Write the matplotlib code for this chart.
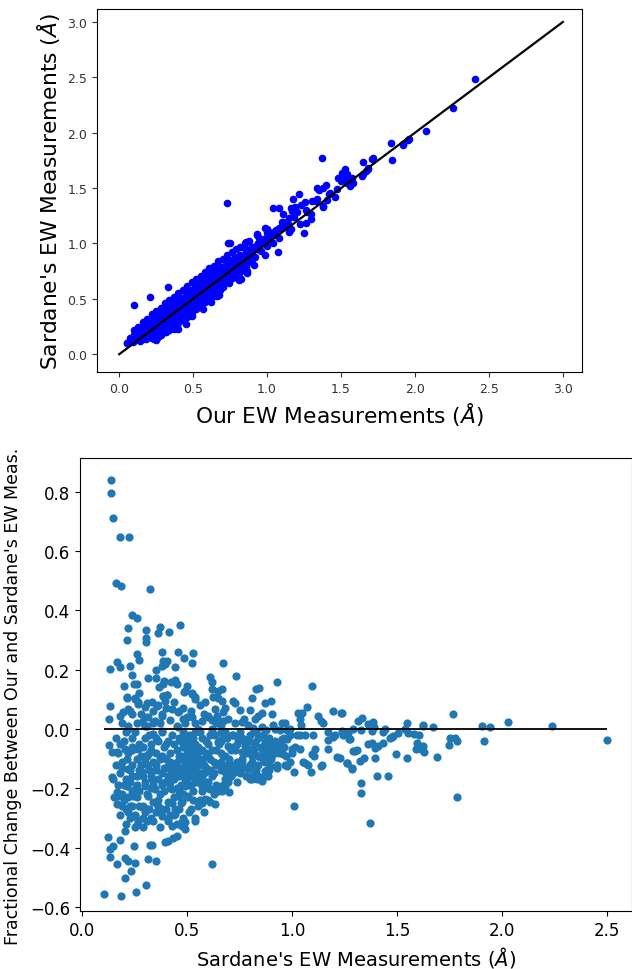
import numpy as np
import matplotlib
matplotlib.use('Agg')
import matplotlib.pyplot as plt

# --- painel de cima: nossas medidas x medidas do Sardane (estimadas da figura) ---
our_ew = [
    2.405, 2.259, 2.072, 1.955, 1.917, 1.838, 1.845, 1.372, 0.728, 1.651,
    1.707, 1.718, 1.685, 1.527, 1.505, 1.539, 1.482, 1.561, 1.583, 1.640,
    1.399, 1.354, 1.426, 1.471, 1.218, 1.178, 1.257, 1.302, 1.336, 1.038,
    1.083, 1.189, 1.200, 1.167, 1.264, 1.295, 1.250, 1.110, 1.099, 1.133,
    1.160, 0.998, 0.930, 1.020, 1.054, 0.739, 0.858, 0.930, 0.941, 0.908,
    0.863, 0.813, 0.914, 0.660, 0.615, 0.547, 0.493, 0.403, 0.302, 0.232,
    0.164, 0.052, 0.074, 0.329, 0.205, 0.101, 1.075, 0.749, 0.863, 0.822,
    1.960, 1.919, 1.666, 1.647, 1.680, 1.538, 1.516, 1.571, 1.340, 1.380,
    1.163, 1.190, 1.149, 1.230, 1.271, 1.380, 1.408, 0.986, 1.013, 1.081,
    1.108, 0.945, 0.999, 0.931, 0.890, 0.849, 0.986, 0.754, 0.809, 0.319,
    0.373, 0.250, 0.482, 0.564, 0.618, 0.672, 0.455, 0.400, 0.050, 0.070,
    0.080, 0.090, 0.100, 0.110, 0.120, 0.120, 0.130, 0.140, 0.140, 0.150,
    0.160, 0.160, 0.170, 0.180, 0.180, 0.190, 0.200, 0.200, 0.210, 0.220,
    0.220, 0.230, 0.240, 0.240, 0.250, 0.250, 0.260, 0.270, 0.270, 0.280,
    0.280, 0.290, 0.300, 0.300, 0.310, 0.310, 0.320, 0.330, 0.330, 0.340,
    0.340, 0.350, 0.360, 0.360, 0.370, 0.370, 0.380, 0.390, 0.390, 0.400,
    0.400, 0.410, 0.420, 0.420, 0.430, 0.430, 0.440, 0.450, 0.450, 0.460,
    0.460, 0.470, 0.480, 0.480, 0.490, 0.490, 0.500, 0.510, 0.510, 0.520,
    0.520, 0.530, 0.540, 0.540, 0.550, 0.550, 0.560, 0.570, 0.570, 0.580,
    0.580, 0.590, 0.600, 0.600, 0.610, 0.610, 0.620, 0.630, 0.630, 0.640,
    0.640, 0.650, 0.660, 0.660, 0.670, 0.680, 0.680, 0.690, 0.700, 0.700,
    0.710, 0.720, 0.720, 0.730, 0.740, 0.740, 0.750, 0.760, 0.760, 0.770,
    0.780, 0.780, 0.790, 0.800, 0.810, 0.820, 0.830, 0.840, 0.850, 0.860,
    0.870, 0.880, 0.890, 0.900, 0.920, 0.940, 0.960, 0.980, 1.000, 1.020,
    1.040, 1.060, 1.080, 1.120, 1.150, 1.180, 1.220, 1.260, 1.300, 1.330,
    1.380, 1.420, 1.460, 1.500, 1.560, 0.150, 0.190, 0.230, 0.260, 0.290,
    0.320, 0.350, 0.380, 0.410, 0.440, 0.470, 0.500, 0.530, 0.560, 0.590,
    0.620, 0.650, 0.680, 0.710, 0.740, 0.200, 0.250, 0.300, 0.350, 0.400,
    0.450, 0.500, 0.550, 0.600, 0.650, 0.700, 0.750, 0.800, 0.850, 0.900,
    0.100, 0.130, 0.160, 0.190, 0.220, 0.250, 0.280, 0.310, 0.340, 0.370,
    0.400, 0.430, 0.460, 0.490, 0.520, 0.550, 0.580, 0.610, 0.640, 0.670,
    0.700, 0.730, 0.760, 0.790, 0.820, 0.850, 0.880, 0.120, 0.150, 0.180,
    0.210, 0.240, 0.270, 0.300, 0.330, 0.360, 0.390, 0.420, 0.450, 0.480,
    0.510, 0.540, 0.570, 0.600, 0.630, 0.660, 0.690, 0.720, 0.750, 0.780,
    0.260, 0.300, 0.340, 0.380, 0.420, 0.460, 0.500, 0.540, 0.580, 0.620,
    0.660, 0.700, 0.740, 0.780, 0.820, 0.860, 0.900, 0.210, 0.290, 0.370,
    0.450, 0.530, 0.610, 0.690, 0.770, 0.850, 0.930, 0.970, 1.010, 1.050,
    1.100, 1.140, 0.090, 0.110, 0.140, 0.170, 0.200, 0.230, 0.260, 0.290,
    0.320, 0.350, 0.380, 0.410, 0.440, 0.470, 0.500, 0.530, 0.560, 0.590,
]
sardane_ew_top = [
    2.484, 2.222, 2.012, 1.936, 1.888, 1.906, 1.755, 1.771, 1.364, 1.737,
    1.762, 1.768, 1.671, 1.677, 1.641, 1.626, 1.590, 1.581, 1.545, 1.611,
    1.529, 1.481, 1.460, 1.490, 1.445, 1.400, 1.376, 1.385, 1.406, 1.319,
    1.319, 1.325, 1.286, 1.295, 1.183, 1.220, 1.093, 1.265, 1.190, 1.159,
    1.129, 1.129, 1.084, 1.099, 1.114, 1.003, 1.009, 1.075, 0.979, 0.888,
    0.753, 0.672, 0.804, 0.527, 0.497, 0.467, 0.346, 0.316, 0.241, 0.136,
    0.136, 0.106, 0.151, 0.611, 0.521, 0.443, 0.926, 1.001, 0.730, 0.675,
    1.941, 1.899, 1.658, 1.625, 1.679, 1.544, 1.589, 1.589, 1.498, 1.498,
    1.323, 1.287, 1.227, 1.348, 1.287, 1.333, 1.393, 1.137, 1.106, 1.137,
    1.197, 1.046, 1.091, 0.986, 0.926, 0.956, 0.895, 0.745, 0.805, 0.202,
    0.232, 0.142, 0.353, 0.413, 0.473, 0.534, 0.277, 0.232, 0.100, 0.120,
    0.150, 0.110, 0.170, 0.130, 0.200, 0.150, 0.220, 0.120, 0.180, 0.240,
    0.160, 0.210, 0.260, 0.140, 0.200, 0.280, 0.230, 0.170, 0.300, 0.250,
    0.150, 0.290, 0.200, 0.330, 0.270, 0.130, 0.310, 0.220, 0.360, 0.280,
    0.170, 0.330, 0.390, 0.250, 0.300, 0.200, 0.360, 0.420, 0.280, 0.330,
    0.220, 0.400, 0.450, 0.300, 0.360, 0.250, 0.420, 0.480, 0.330, 0.380,
    0.280, 0.450, 0.510, 0.360, 0.410, 0.310, 0.480, 0.550, 0.390, 0.440,
    0.340, 0.510, 0.580, 0.420, 0.470, 0.380, 0.540, 0.610, 0.450, 0.500,
    0.410, 0.570, 0.640, 0.480, 0.530, 0.440, 0.600, 0.670, 0.510, 0.560,
    0.470, 0.630, 0.700, 0.540, 0.590, 0.500, 0.660, 0.730, 0.570, 0.620,
    0.530, 0.690, 0.760, 0.600, 0.650, 0.720, 0.580, 0.790, 0.680, 0.630,
    0.750, 0.820, 0.660, 0.710, 0.780, 0.640, 0.850, 0.740, 0.690, 0.810,
    0.880, 0.720, 0.770, 0.840, 0.760, 0.900, 0.800, 0.870, 0.780, 0.930,
    0.840, 0.900, 0.830, 0.970, 0.880, 1.000, 0.930, 1.040, 0.980, 1.080,
    1.000, 1.120, 1.050, 1.150, 1.100, 1.240, 1.180, 1.300, 1.270, 1.380,
    1.340, 1.450, 1.420, 1.560, 1.520, 0.190, 0.220, 0.240, 0.260, 0.290,
    0.310, 0.350, 0.370, 0.400, 0.430, 0.460, 0.490, 0.520, 0.550, 0.580,
    0.610, 0.640, 0.670, 0.700, 0.730, 0.260, 0.300, 0.350, 0.380, 0.430,
    0.500, 0.580, 0.620, 0.660, 0.710, 0.770, 0.800, 0.860, 0.900, 0.920,
    0.220, 0.250, 0.290, 0.320, 0.360, 0.390, 0.420, 0.460, 0.490, 0.520,
    0.550, 0.580, 0.620, 0.650, 0.680, 0.710, 0.740, 0.780, 0.800, 0.840,
    0.860, 0.900, 0.920, 0.950, 0.970, 1.000, 1.020, 0.170, 0.210, 0.250,
    0.280, 0.310, 0.340, 0.380, 0.410, 0.430, 0.470, 0.500, 0.530, 0.560,
    0.590, 0.620, 0.650, 0.680, 0.710, 0.740, 0.770, 0.800, 0.830, 0.860,
    0.160, 0.210, 0.250, 0.290, 0.330, 0.370, 0.410, 0.450, 0.500, 0.540,
    0.570, 0.610, 0.660, 0.700, 0.740, 0.790, 0.860, 0.190, 0.270, 0.340,
    0.420, 0.490, 0.570, 0.650, 0.730, 0.820, 0.950, 1.010, 1.050, 1.080,
    1.160, 1.180, 0.140, 0.190, 0.150, 0.230, 0.200, 0.270, 0.240, 0.360,
    0.330, 0.440, 0.410, 0.480, 0.460, 0.550, 0.520, 0.600, 0.580, 0.660,
]
linha_ref = [0.0, 3.0]

# --- painel de baixo: medida do Sardane x variacao fracionaria ---
sardane_ew = [
    0.138, 0.138, 0.149, 0.181, 0.224, 0.160, 0.186, 0.324, 0.240, 0.260,
    0.221, 0.303, 0.371, 0.363, 0.414, 0.465, 0.213, 0.303, 0.303, 0.263,
    0.271, 0.382, 0.387, 0.395, 0.380, 0.403, 0.459, 0.487, 0.530, 0.522,
    0.443, 0.135, 0.167, 0.179, 0.229, 0.237, 0.316, 0.351, 0.351, 0.673,
    0.248, 0.262, 0.200, 0.367, 0.387, 0.390, 0.424, 0.443, 0.451, 0.498,
    0.487, 0.522, 0.538, 0.610, 0.617, 0.620, 0.646, 0.213, 0.252, 0.268,
    0.308, 0.387, 0.403, 0.395, 0.732, 0.927, 1.097, 0.827, 0.844, 0.665,
    0.721, 0.729, 0.811, 0.871, 0.898, 0.646, 0.752, 0.800, 0.681, 0.643,
    0.856, 0.840, 0.824, 0.903, 1.030, 1.049, 1.070, 1.197, 1.233, 1.125,
    1.138, 1.149, 1.038, 1.043, 0.951, 0.967, 0.911, 0.773, 0.760, 0.729,
    0.697, 0.673, 0.654, 0.660, 0.792, 0.816, 0.856, 0.878, 0.943, 0.975,
    0.990, 1.022, 1.062, 1.102, 1.173, 1.205, 1.244, 1.268, 1.292, 1.276,
    1.300, 1.213, 1.260, 1.284, 1.170, 1.173, 1.197, 1.110, 1.106, 1.141,
    1.138, 1.094, 1.062, 1.078, 1.089, 1.054, 1.038, 1.014, 1.038, 1.011,
    1.008, 0.967, 0.975, 0.998, 0.998, 0.959, 0.975, 0.951, 0.935, 0.919,
    0.911, 0.895, 0.887, 0.871, 0.856, 0.832, 0.808, 0.800, 0.697, 0.700,
    0.681, 0.665, 0.649, 1.237, 1.765, 2.029, 2.240, 2.500, 1.905, 1.944,
    1.914, 1.787, 1.327, 1.327, 1.406, 1.457, 1.260, 1.284, 1.689, 1.494,
    1.546, 1.394, 1.326, 1.342, 1.292, 1.308, 1.746, 1.778, 1.787, 1.752,
    1.673, 1.622, 1.625, 1.549, 1.540, 1.554, 1.581, 1.603, 1.594, 1.624,
    1.590, 1.617, 1.631, 1.443, 1.433, 1.379, 1.387, 1.363, 1.392, 1.316,
    1.332, 1.327, 1.237, 1.250, 1.273, 1.363, 1.379, 1.432, 1.411, 1.394,
    1.467, 1.483, 1.506, 1.475, 1.230, 1.370, 0.106, 0.186, 0.256, 0.303,
    0.202, 0.232, 0.165, 0.133, 0.133, 0.149, 0.125, 0.181, 0.205, 0.221,
    0.252, 0.313, 0.352, 0.249, 0.324, 0.335, 0.395, 0.411, 0.435, 0.451,
    0.205, 0.620, 0.260, 0.268, 0.252, 0.475, 0.490, 0.538, 0.133, 0.129,
    0.213, 0.252, 0.268, 0.300, 0.332, 0.356, 0.181, 0.197, 0.221, 0.237,
    0.387, 0.403, 0.490, 0.522, 0.538, 0.586, 0.625, 0.665, 0.633, 0.673,
    0.427, 0.459, 0.483, 0.522, 0.570, 0.602, 0.379, 0.348, 0.316, 0.284,
    0.221, 0.300, 0.379, 0.459, 0.538, 0.617, 0.252, 0.340, 0.129, 0.141,
    0.165, 0.205, 0.237, 0.213, 0.221, 0.237, 0.213, 0.252, 0.244, 0.141,
    0.149, 0.165, 0.173, 0.189, 0.165, 0.268, 0.300, 0.316, 0.284, 0.332,
    0.300, 0.348, 0.316, 0.340, 0.284, 0.300, 0.363, 0.379, 0.411, 0.443,
    0.395, 0.427, 0.459, 0.411, 0.443, 0.475, 0.506, 0.490, 0.475, 0.490,
    0.506, 0.522, 0.538, 0.554, 0.506, 0.475, 0.538, 0.570, 0.522, 0.490,
    0.554, 0.586, 0.538, 0.570, 0.602, 0.578, 0.610, 0.633, 0.657, 0.673,
    0.586, 0.610, 0.633, 0.379, 0.411, 0.443, 0.427, 0.475, 0.490, 0.633,
    0.649, 0.665, 0.697, 0.713, 0.729, 0.744, 0.760, 0.776, 0.792, 0.808,
    0.824, 0.840, 0.856, 0.871, 0.887, 0.729, 0.760, 0.792, 0.824, 0.665,
    0.681, 0.697, 0.808, 0.840, 0.871, 0.400, 0.420, 0.440, 0.460, 0.470,
    0.480, 0.490, 0.500, 0.500, 0.510, 0.520, 0.530, 0.540, 0.550, 0.560,
    0.570, 0.580, 0.590, 0.600, 0.610, 0.430, 0.450, 0.460, 0.480, 0.490,
    0.510, 0.520, 0.530, 0.550, 0.570, 0.360, 0.370, 0.380, 0.390, 0.410,
    0.420, 0.440, 0.450, 0.470, 0.500, 0.530, 0.560, 0.590, 0.620, 0.640,
    0.660, 0.680, 0.700, 0.720, 0.740, 0.760, 0.780, 0.800, 0.820, 0.840,
    0.860, 0.880, 0.900, 0.920, 0.940, 0.300, 0.310, 0.320, 0.330, 0.340,
    0.280, 0.270, 0.260, 0.240, 0.220, 0.300, 0.340, 0.380, 0.420, 0.460,
    0.500, 0.540, 0.580, 0.620, 0.660, 0.350, 0.370, 0.400, 0.410, 0.440,
    0.460, 0.510, 0.550, 0.580, 0.310, 0.290, 0.230, 0.210, 0.190, 0.180,
    0.170, 0.160, 0.190, 0.230, 0.270,
]
frac_change = [
    0.841, 0.796, 0.713, 0.647, 0.647, 0.492, 0.481, 0.472, 0.385, 0.373,
    0.342, 0.335, 0.345, 0.323, 0.328, 0.350, 0.300, 0.307, 0.292, 0.253,
    0.234, 0.259, 0.228, 0.220, 0.214, 0.228, 0.259, 0.239, 0.255, 0.224,
    0.210, 0.203, 0.225, 0.210, 0.214, 0.181, 0.173, 0.173, 0.199, 0.221,
    0.153, 0.153, 0.146, 0.140, 0.151, 0.162, 0.160, 0.166, 0.151, 0.146,
    0.126, 0.120, 0.107, 0.174, 0.157, 0.134, 0.129, 0.104, 0.104, 0.090,
    0.087, 0.110, 0.116, 0.094, 0.178, 0.160, 0.145, 0.134, 0.138, 0.134,
    0.095, 0.086, 0.103, 0.086, 0.093, 0.104, 0.065, 0.065, 0.072, 0.045,
    0.055, 0.043, 0.032, 0.052, 0.055, 0.053, 0.074, 0.060, 0.055, 0.043,
    0.027, 0.020, 0.035, 0.015, 0.019, 0.019, 0.012, 0.032, 0.023, 0.020,
    0.032, 0.027, 0.027, 0.015, 0.012, 0.004, 0.007, -0.002, -0.002, -0.005,
    0.000, -0.022, -0.022, -0.022, -0.011, -0.019, -0.019, -0.013, 0.000, -0.034,
    -0.073, -0.094, -0.114, -0.133, -0.066, -0.038, -0.027, -0.069, -0.092, -0.120,
    -0.126, -0.086, -0.114, -0.122, -0.144, -0.112, -0.067, -0.062, -0.022, -0.146,
    -0.260, -0.121, -0.126, -0.069, -0.080, -0.086, -0.035, -0.035, -0.058, -0.069,
    -0.086, -0.126, -0.159, -0.143, -0.176, -0.170, -0.159, -0.170, -0.180, -0.214,
    -0.192, -0.209, -0.209, 0.055, 0.050, 0.023, 0.010, -0.037, 0.010, 0.005,
    -0.040, -0.230, -0.215, -0.181, -0.160, -0.160, -0.116, -0.134, -0.093, -0.086,
    -0.097, -0.097, -0.107, -0.099, -0.075, -0.072, -0.055, -0.030, -0.042, -0.032,
    0.006, 0.015, 0.010, 0.020, 0.000, -0.013, -0.018, -0.022, -0.048, -0.058,
    -0.068, -0.069, -0.079, 0.000, -0.010, -0.007, 0.024, 0.018, 0.006, 0.026,
    0.037, -0.002, -0.006, -0.010, -0.033, -0.050, -0.048, -0.048, -0.056, -0.063,
    -0.032, -0.023, -0.012, -0.027, -0.097, -0.318, -0.556, -0.565, -0.549, -0.528,
    -0.503, -0.478, -0.455, -0.431, -0.405, -0.394, -0.365, -0.374, -0.436, -0.444,
    -0.452, -0.437, -0.444, -0.396, -0.393, -0.390, -0.382, -0.377, -0.369, -0.362,
    -0.343, -0.455, -0.324, -0.310, -0.293, -0.326, -0.315, -0.310, 0.079, 0.034,
    0.107, 0.101, 0.084, 0.073, 0.090, 0.079, 0.045, 0.058, 0.067, 0.050,
    0.112, 0.115, 0.129, 0.118, 0.101, 0.090, 0.107, 0.096, 0.067, 0.056,
    0.067, 0.056, 0.034, 0.039, 0.027, 0.045, 0.045, 0.028, 0.039, 0.022,
    0.000, 0.011, -0.006, 0.005, -0.011, 0.000, -0.011, -0.017, -0.054, -0.079,
    -0.079, -0.067, -0.062, -0.101, -0.135, -0.157, -0.191, -0.202, -0.225, -0.163,
    -0.169, -0.214, -0.225, -0.259, -0.253, -0.067, -0.090, -0.124, -0.146, -0.169,
    -0.191, -0.202, -0.225, -0.247, -0.264, -0.281, -0.259, -0.090, -0.124, -0.146,
    -0.180, -0.202, -0.225, -0.247, -0.270, -0.247, -0.225, -0.191, -0.034, -0.056,
    -0.045, -0.067, -0.056, -0.079, -0.090, -0.101, -0.112, -0.101, -0.135, -0.146,
    -0.157, -0.146, -0.180, -0.191, -0.180, -0.185, -0.202, -0.208, -0.197, -0.191,
    -0.236, -0.247, -0.253, -0.292, -0.304, -0.287, -0.326, -0.315, -0.337, -0.022,
    -0.045, -0.034, -0.056, -0.022, -0.067, -0.034, -0.079, -0.056, -0.034, -0.067,
    -0.045, -0.090, -0.067, -0.045, -0.079, -0.124, -0.112, -0.135, -0.146, -0.124,
    -0.146, -0.169, -0.169, -0.157, -0.101, -0.050, -0.080, -0.120, -0.030, -0.090,
    -0.140, -0.060, -0.110, -0.170, -0.020, -0.080, -0.130, -0.050, -0.100, -0.150,
    -0.070, -0.120, -0.040, -0.090, -0.140, -0.020, -0.070, -0.160, -0.010, -0.120,
    -0.080, -0.190, -0.030, -0.060, -0.110, -0.040, -0.100, -0.150, -0.210, -0.130,
    -0.180, -0.230, -0.200, -0.250, -0.230, -0.210, -0.240, -0.180, -0.070, -0.120,
    -0.040, -0.090, -0.140, -0.060, -0.110, -0.030, -0.080, -0.120, -0.050, -0.090,
    -0.020, -0.060, -0.100, -0.040, -0.080, -0.030, -0.090, -0.140, -0.050, -0.190,
    -0.120, -0.210, -0.160, -0.260, -0.230, 0.040, 0.020, 0.050, 0.030, 0.060,
    0.040, 0.020, 0.050, 0.030, -0.010, -0.280, -0.330, -0.270, -0.310, -0.290,
    -0.270, -0.280, -0.260, -0.280, -0.310, -0.260, -0.300, -0.270, -0.220, -0.150,
    -0.080, -0.030, 0.020, 0.060, 0.120,
]

# nucleo denso do painel de baixo
sardane_ew_core = [
    0.31, 0.33, 0.35, 0.36, 0.37, 0.38, 0.39, 0.40, 0.41, 0.42,
    0.43, 0.44, 0.45, 0.46, 0.47, 0.48, 0.49, 0.50, 0.51, 0.52,
    0.53, 0.54, 0.55, 0.56, 0.57, 0.58, 0.59, 0.60, 0.61, 0.62,
    0.63, 0.64, 0.65, 0.66, 0.67, 0.68, 0.69, 0.70, 0.71, 0.72,
    0.73, 0.74, 0.75, 0.77, 0.79, 0.81, 0.83, 0.85, 0.87, 0.89,
    0.91, 0.93, 0.95, 0.97, 0.99, 0.34, 0.36, 0.40, 0.44, 0.48,
    0.52, 0.56, 0.60, 0.64, 0.33, 0.36, 0.38, 0.42, 0.45, 0.48,
    0.52, 0.54, 0.57, 0.60, 0.63, 0.27, 0.28, 0.29, 0.26, 0.25,
    0.24, 0.23, 0.22, 0.21, 0.20, 0.19, 0.18, 0.17, 0.16, 0.15,
    0.24, 0.26, 0.28, 0.22, 0.20, 0.29, 0.31, 0.32, 0.34, 0.35,
    0.37, 0.39, 0.41, 0.43, 0.45, 0.46, 0.47, 0.49, 0.50, 0.51,
    0.53, 0.54, 0.55, 0.56, 0.57, 0.58, 0.59, 0.60, 0.61, 0.62,
    0.63, 0.64, 0.66, 0.67, 0.68, 0.70, 0.72, 0.74, 0.76, 0.78,
    0.80, 0.82, 0.84, 0.86, 0.88, 0.90, 0.92, 0.96, 0.42, 0.44,
    0.47, 0.49, 0.51, 0.53, 0.52, 0.48, 0.46, 0.50, 0.55, 0.57,
    0.19, 0.20, 0.21, 0.22, 0.23, 0.24, 0.25, 0.26, 0.27, 0.28,
    0.29, 0.30, 0.31, 0.32, 0.33, 0.34, 0.35, 0.18, 0.21, 0.24,
    0.27, 0.30, 0.33, 0.36, 0.26, 0.29, 0.32, 0.35, 0.38, 0.23,
    0.66, 0.69, 0.72, 0.75, 0.78, 0.81, 0.84, 0.87, 0.90, 0.93,
    0.96, 0.99, 0.68, 0.71, 0.74, 0.77, 0.80, 0.83, 0.86, 0.89,
]
frac_core = [
    0.01, -0.07, -0.12, -0.17, -0.22, -0.01, -0.06, -0.10, -0.16, -0.20,
    -0.25, -0.05, -0.11, -0.14, -0.19, -0.22, 0.02, -0.03, -0.13, -0.16,
    -0.24, -0.09, -0.18, -0.01, -0.21, -0.15, -0.08, -0.20, -0.02, -0.16,
    -0.11, -0.19, -0.05, -0.14, -0.09, -0.17, -0.03, -0.10, -0.16, -0.12,
    -0.07, -0.18, -0.01, -0.13, -0.04, -0.09, -0.14, -0.06, -0.11, -0.03,
    -0.07, -0.12, -0.05, -0.09, -0.02, 0.06, 0.08, 0.07, 0.09, 0.07,
    0.06, 0.08, 0.04, 0.02, -0.30, -0.24, -0.27, -0.29, -0.32, -0.30,
    -0.27, -0.30, -0.25, -0.24, -0.22, -0.05, -0.09, -0.16, -0.23, -0.29,
    -0.12, -0.18, -0.08, -0.32, -0.19, -0.11, -0.29, -0.19, -0.12, -0.23,
    -0.03, 0.02, 0.05, 0.01, -0.04, -0.33, -0.22, -0.27, -0.11, -0.03,
    0.02, -0.13, -0.04, -0.15, 0.01, -0.21, -0.04, -0.17, -0.08, -0.19,
    -0.06, -0.14, 0.00, -0.12, -0.03, -0.20, -0.13, -0.05, -0.10, -0.01,
    -0.15, -0.07, -0.11, -0.19, -0.02, -0.06, -0.15, -0.05, -0.10, -0.16,
    -0.02, -0.07, -0.12, -0.08, -0.14, -0.05, 0.00, -0.03, -0.11, -0.17,
    -0.13, -0.10, -0.05, -0.10, -0.12, -0.06, -0.09, -0.14, -0.07, -0.16,
    -0.13, -0.24, -0.17, -0.28, -0.14, -0.21, -0.33, -0.19, -0.26, -0.15,
    -0.30, -0.18, -0.27, -0.08, -0.20, -0.31, -0.14, -0.05, -0.01, -0.07,
    -0.14, -0.11, -0.16, -0.26, -0.10, -0.06, -0.02, -0.08, -0.19, -0.26,
    -0.08, -0.12, -0.02, -0.15, -0.06, -0.11, -0.03, -0.16, -0.08, -0.13,
    -0.06, -0.11, -0.01, -0.07, -0.13, -0.04, -0.12, -0.01, -0.10, -0.14,
]

fig = plt.figure(figsize=(6.32, 9.70), dpi=100)

# grafico de cima
ax1 = fig.add_axes([0.1535, 0.6155, 0.7675, 0.3745])
ax1.scatter(our_ew, sardane_ew_top, s=20, color='blue', zorder=2)
ax1.plot(linha_ref, linha_ref, color='black', lw=1.6, zorder=3)
ax1.set_xlim(-0.15, 3.13)
ax1.set_ylim(-0.16, 3.12)
ax1.set_xticks([0.0, 0.5, 1.0, 1.5, 2.0, 2.5, 3.0])
ax1.set_yticks([0.0, 0.5, 1.0, 1.5, 2.0, 2.5, 3.0])
ax1.tick_params(labelsize=9, colors='#333333')
ax1.set_xlabel('Our EW Measurements ($\\AA$)', fontsize=15.7)
ax1.set_ylabel("Sardane's EW Measurements ($\\AA$)", fontsize=15.7)

# grafico de baixo
ax2 = fig.add_axes([0.1266, 0.0598, 0.8734, 0.467])
ax2.scatter(sardane_ew + sardane_ew_core, frac_change + frac_core, s=24, color='#1f77b4', zorder=2)
ax2.hlines(0, min(sardane_ew), max(sardane_ew), color='black', lw=1.3, zorder=3)
ax2.set_xlim(-0.01, 2.62)
ax2.set_ylim(-0.614, 0.914)
ax2.set_xticks([0.0, 0.5, 1.0, 1.5, 2.0, 2.5])
ax2.set_yticks([-0.6, -0.4, -0.2, 0.0, 0.2, 0.4, 0.6, 0.8])
ax2.tick_params(labelsize=12)
ax2.set_xlabel("Sardane's EW Measurements ($\\AA$)", fontsize=14)
ax2.set_ylabel("Fractional Change Between Our and Sardane's EW Meas.", fontsize=12.5)
ax2.yaxis.set_label_coords(-0.105, 0.475)

plt.savefig('out.png', dpi=100)
